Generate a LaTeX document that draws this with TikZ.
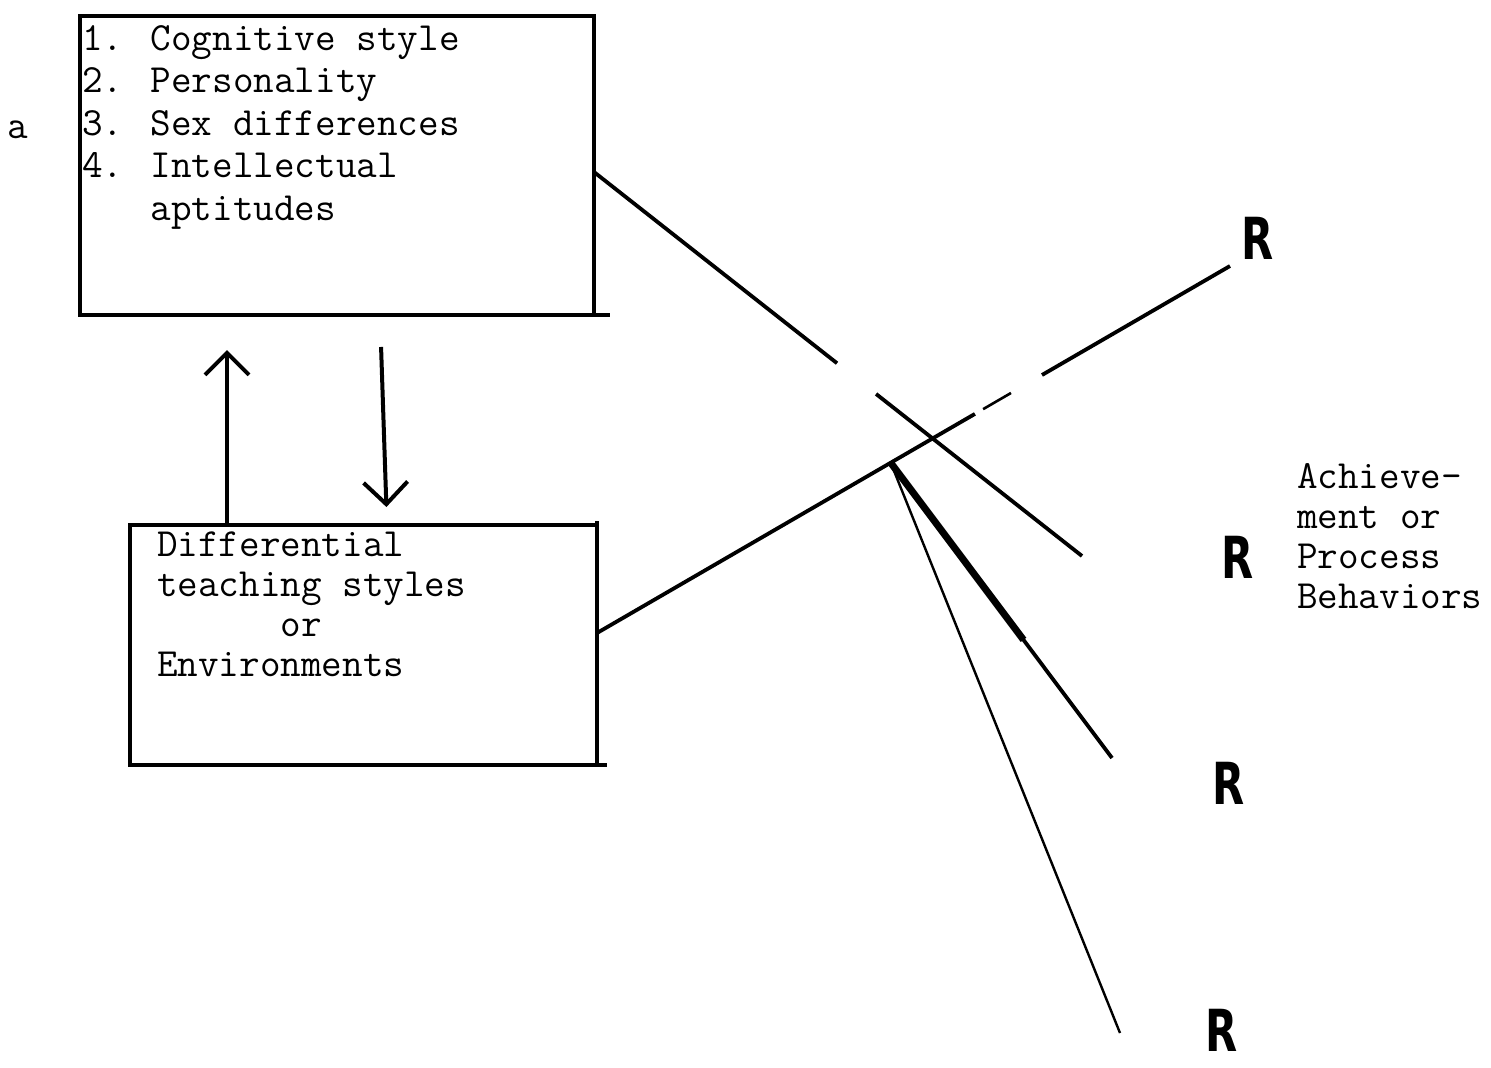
\documentclass[tikz,border=0pt]{standalone}
\usepackage{fontspec}
\usepackage{graphicx}
\usetikzlibrary{calc,arrows.meta}
\newfontfamily\handR{DejaVu Sans}[Scale=1]

\tikzset{
  box/.style={draw, line width=4pt, inner sep=0pt, outer sep=0pt, anchor=north west},
  typed/.style={font=\ttfamily\addfontfeatures{FakeBold=3}\fontsize{40pt}{#1}\selectfont,
                inner sep=0pt, outer sep=0pt, align=left, anchor=base west},
  conn/.style={line width=3.8pt},
  thinconn/.style={line width=2.4pt},
  updown/.style={line width=4pt, -{Straight Barb[length=22pt, width=44pt, line width=4pt]}},
  rmark/.style={font=\handR\bfseries\fontsize{58pt}{58pt}\selectfont, inner sep=0pt},
}

\begin{document}
\begin{tikzpicture}[x=1pt, y=-1pt]
  \useasboundingbox (0,0) rectangle (1491,1068);

  % the two boxes
  \node[box, minimum width=514pt, minimum height=299pt] (top) at (80,16) {};
  \node[box, minimum width=467pt, minimum height=240pt] (bot) at (130,525) {};
  % ruled edges running past the corners
  \draw[conn] (top.south east) -- ++(16,0);
  \draw[conn] (bot.north east) -- ++(0,-4);
  \draw[conn] (bot.south east) -- ++(10,0);

  % box contents (each node is placed by the baseline of its last line)
  \node[typed=42.5pt] (toptext) at (82,220)
    {1. Cognitive style\\2. Personality\\3. Sex differences\\4. Intellectual\\\hphantom{4. }aptitudes};
  \node[typed=40pt] (bottext) at (157,676)
    {Differential\\teaching styles\\\hphantom{teachi}or\\Environments};
  \node[typed=40pt] (label) at (8,138) {a};
  \node[typed=40pt] (outcome) at (1297,608)
    {Achieve-\\ment or\\Process\\Behaviors};

  % arrows between the boxes
  \coordinate (ux) at (227,0);
  \coordinate (dx1) at (380,0);
  \coordinate (dx2) at (387,0);
  \draw[updown, shorten >=35pt] (bot.north -| ux) -- (top.south -| ux);
  \draw[updown, shorten <=32pt, shorten >=18pt] (top.south -| dx1) -- (bot.north -| dx2);

  % response labels
  \node[rmark] (r1) at (1258,238) {\scalebox{0.72}[1]{R}};
  \node[rmark] (r2) at (1238,557) {\scalebox{0.72}[1]{R}};
  \node[rmark] (r3) at (1229,783) {\scalebox{0.72}[1]{R}};
  \node[rmark] (r4) at (1222,1030) {\scalebox{0.72}[1]{R}};

  % ends of the crossing lines
  \coordinate (s1) at ($(top.north east)+(0,156)$);
  \coordinate (e1) at (1082,556);
  \coordinate (s2) at ($(bot.north east)+(0,108)$);
  \coordinate (e2) at (1230,266);
  \coordinate (c) at ($(s2)!0.464!(e2)$);
  \coordinate (e3) at (1112,758);
  \coordinate (e4) at (1120,1033);

  % line from the upper box, broken where it passes the other line
  \draw[conn] (s1) -- ($(s1)!0.498!(e1)$);
  \draw[conn] ($(s1)!0.578!(e1)$) -- (e1);

  % line from the lower box, with a broken stretch
  \draw[conn] (s2) -- ($(s2)!0.597!(e2)$);
  \draw[line width=2.6pt] ($(s2)!0.610!(e2)$) -- ($(s2)!0.654!(e2)$);
  \draw[conn] ($(s2)!0.703!(e2)$) -- (e2);

  % fan of lines from the meeting point
  \draw[conn] (c) -- (e3);
  \draw[line width=7pt] (c) -- ($(c)!0.6!(e3)$);
  \draw[thinconn] (c) -- (e4);
\end{tikzpicture}
\end{document}
